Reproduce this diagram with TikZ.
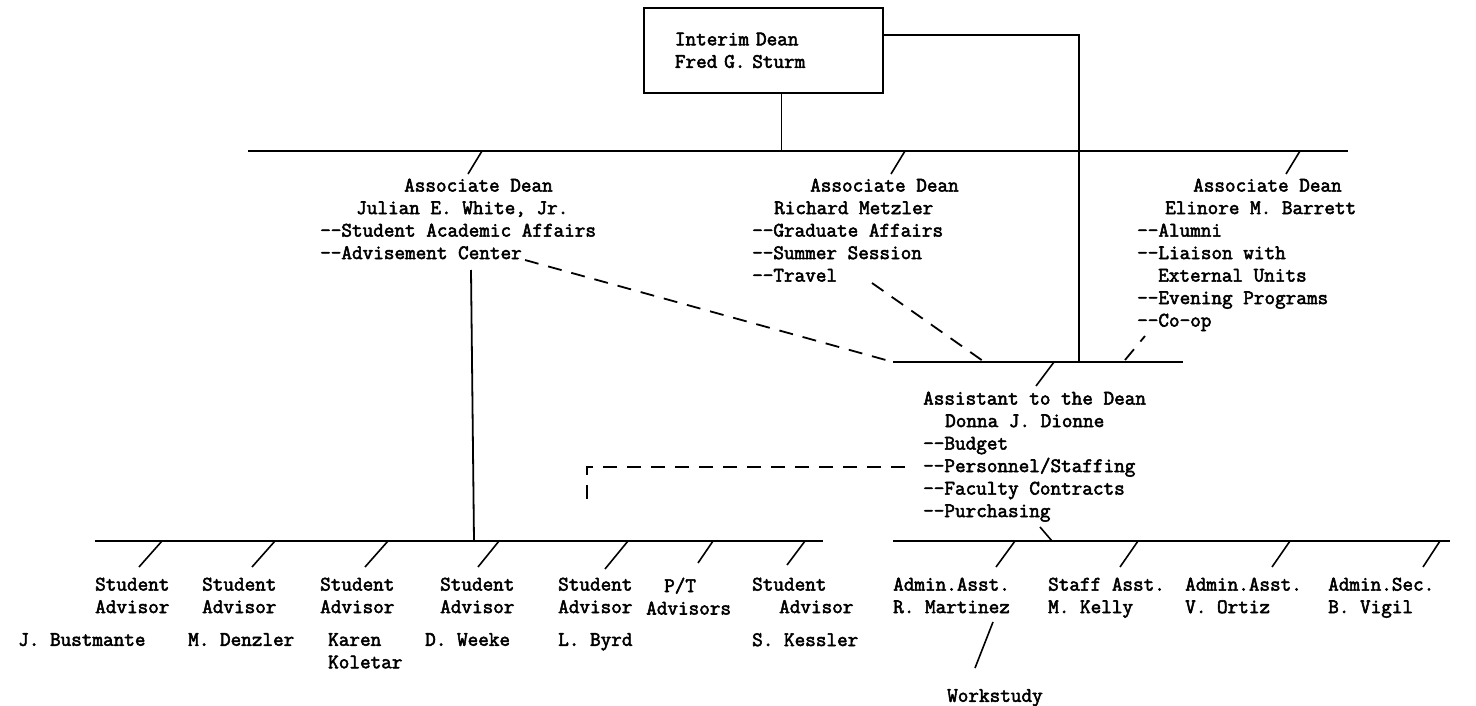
\documentclass[tikz,border=0pt]{standalone}
\usepackage{fontspec}
\newfontfamily\twfont{Latin Modern Mono}[RawFeature={embolden=2.6}]
\begin{document}
\begin{tikzpicture}[x=1pt,y=-1pt,
  txt/.style={font=\twfont\fontsize{20.6}{22.5}\selectfont, inner sep=0pt, anchor=north west, align=left},
  ln/.style={line width=1.8pt},
  dsh/.style={line width=1.8pt, dash pattern=on 14pt off 10pt},
  sl/.style={line width=1.6pt}]
\useasboundingbox (0,0) rectangle (1476,706);

% ---------- Dean box ----------
\node[draw, line width=1.8pt, anchor=north west, minimum width=239pt, minimum height=85pt,
      inner xsep=31pt, inner ysep=0pt, text width=177pt, align=left,
      font=\twfont\fontsize{20.6}{22.5}\selectfont] (dean) at (643,7)
      {Interim Dean\\Fred G. Sturm};

% ---------- Associate deans ----------
\node[txt] (ad1) at (320,178.5) {\hspace*{84pt}Associate Dean\\\hspace*{36pt}Julian E. White, Jr.\\-{}-Student Academic Affairs\\-{}-Advisement Center};
\node[txt] (ad2) at (752,178.5) {\hspace*{58pt}Associate Dean\\\hspace*{22pt}Richard Metzler\\-{}-Graduate Affairs\\-{}-Summer Session\\-{}-Travel};
\node[txt] (ad3) at (1137,178.5) {\hspace*{56pt}Associate Dean\\\hspace*{28pt}Elinore M. Barrett\\-{}-Alumni\\-{}-Liaison with\\\hspace*{21pt}External Units\\-{}-Evening Programs\\-{}-Co-op};

% ---------- Assistant ----------
\node[txt] (asst) at (923,391.5) {Assistant to the Dean\\\hspace*{22pt}Donna J. Dionne\\-{}-Budget\\-{}-Personnel/Staffing\\-{}-Faculty Contracts\\-{}-Purchasing};

% ---------- Student advisors ----------
\node[txt] (sa1) at (95,577.5) {Student\\Advisor};
\node[txt] (sa2) at (202,577.5) {Student\\Advisor};
\node[txt] (sa3) at (320,577.5) {Student\\Advisor};
\node[txt] (sa4) at (440,577.5) {Student\\Advisor};
\node[txt] (sa5) at (558,577.5) {Student\\Advisor};
\node[txt] (pt) at (646,577.5) {\hspace*{18pt}P/T\\Advisors};
\node[txt] (sa7) at (752,577.5) {Student\\\hspace*{27pt}Advisor};
\node[txt] (n1) at (18,633) {J. Bustmante};
\node[txt] (n2) at (188,633) {M. Denzler};
\node[txt] (n3) at (328,633) {Karen\\Koletar};
\node[txt] (n4) at (425,633) {D. Weeke};
\node[txt] (n5) at (558,633) {L. Byrd};
\node[txt] (n7) at (752,633) {S. Kessler};

% ---------- Staff ----------
\node[txt] (r1) at (893,577.5) {Admin.Asst.\\R. Martinez};
\node[txt] (r2) at (1048,577.5) {Staff Asst.\\M. Kelly};
\node[txt] (r3) at (1185,577.5) {Admin.Asst.\\V. Ortiz};
\node[txt] (r4) at (1328,577.5) {Admin.Sec.\\B. Vigil};
\node[txt] (ws) at (947,689) {Workstudy};

% ---------- coordinates ----------
\coordinate (topL) at (248,151);
\coordinate (topR) at (1348,151);
\coordinate (asL) at (893,362);
\coordinate (asR) at (1183,362);
\coordinate (blL) at (95,541);
\coordinate (blR) at (823,541);
\coordinate (brL) at (893,541);
\coordinate (brR) at (1450,541);
\coordinate (vr) at (1079,35);

% ---------- solid lines ----------
\draw[ln] (topL) -- (topR);
\draw[ln] ([xshift=18pt]dean.south) -- ([xshift=18pt]dean.south |- topL);
\draw[ln] (dean.east |- vr) -- (vr) -- (vr |- asL);
\draw[ln] (asL) -- (asR);
\draw[ln] (blL) -- (blR);
\draw[ln] (brL) -- (brR);
\draw[ln] (471,270) -- (474,541);

% slashes from top line
\draw[sl] (482,151) -- (468,174);
\draw[sl] (905,151) -- (891,174);
\draw[sl] (1300,151) -- (1286,174);
% slash to assistant
\draw[sl] (1054,362) -- (1036,386);
% slashes on bottom-left line
\draw[sl] (162,541) -- (139,567);
\draw[sl] (275,541) -- (252,567);
\draw[sl] (388,541) -- (365,567);
\draw[sl] (499,541) -- (478,567);
\draw[sl] (628,541) -- (605,569);
\draw[sl] (713,541) -- (698,563);
\draw[sl] (805,541) -- (787,565);
% bottom-right line
\draw[sl] (1040,527) -- (1052,541);
\draw[sl] (1015,541) -- (996,567);
\draw[sl] (1138,541) -- (1120,567);
\draw[sl] (1290,541) -- (1272,567);
\draw[sl] (1440,541) -- (1423,567);
\draw[sl] (993,622) -- (975,668);

% ---------- dashed lines ----------
\draw[dsh] (525,260) -- (asL);
\draw[dsh] (872,283) -- (983,361);
\draw[dsh] (1125,360) -- (1145,336);
\draw[dsh] (905,467) -- (587,467) -- (587,505);
\end{tikzpicture}
\end{document}
